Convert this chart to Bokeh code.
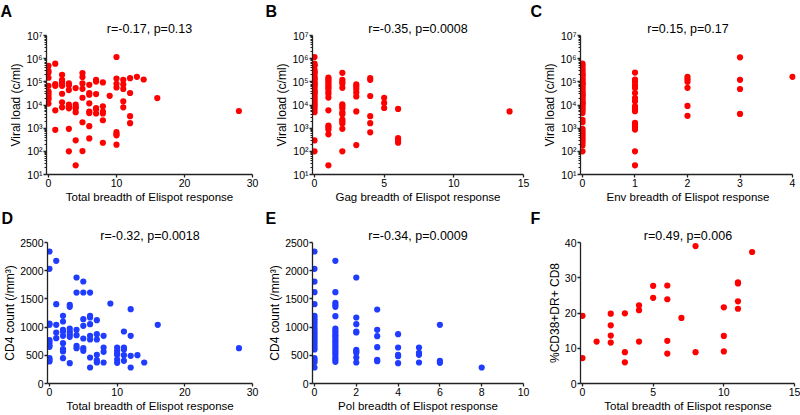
from bokeh.plotting import figure
from bokeh.models import FixedTicker, Range1d, Title
from bokeh.layouts import column, row
from bokeh.embed import file_html
from bokeh.resources import INLINE

# ---------------- data ----------------
# Panel A: total breadth vs viral load
a_x = [0]*11 + [1]*5 + [2]*8 + [3]*8 + [4]*7 + [5]*7 + [6]*8 + [7]*6 + [8]*6 + [9] + [10]*8 + [11]*5 + [12]*4 + [13, 14, 16, 28]
a_y = [4.9e5, 3.0e5, 2.5e5, 1.5e5, 6.7e4, 3.9e4, 3.3e4, 2.7e4, 2.1e4, 1.75e4, 1.15e4,
       6.1e5, 7.9e4, 6.7e4, 5.9e3, 8.5e2,
       2.0e5, 1.22e5, 1.03e5, 8.8e4, 6.7e4, 3.06e4, 1.3e4, 7.9e3,
       8.5e4, 7.2e4, 4.4e4, 1.03e4, 8.5e3, 7.2e3, 9.4e2, 1.0e2,
       5.4e4, 1.03e4, 8.2e3, 7.2e3, 4.9e3, 3.0e2, 25,
       2.4e5, 1.6e5, 8.5e4, 5.0e4, 2.06e4, 1.8e3, 1.03e2,
       7.4e4, 3.3e4, 2.8e4, 1.18e4, 5.2e3, 4.5e3, 1.22e3, 3.6e2,
       1.22e5, 1.03e5, 2.96e4, 7.4e3, 6.5e3, 4.3e3,
       9.4e4, 8.8e3, 5.2e3, 4.3e3, 2.2e3, 2.35e2,
       2.5e4,
       1.18e6, 1.39e5, 8.2e4, 5.7e4, 6.7e2, 5.5e2, 4.9e2, 1.93e2,
       1.22e5, 7.7e4, 4.9e4, 1.44e4, 7.9e3,
       1.44e5, 3.3e4, 3.3e3, 1.64e3,
       1.64e5, 1.26e5, 2.0e4, 5.5e3]

# Panel B: Gag breadth vs viral load
b_x = [0]*35 + [1]*16 + [2]*15 + [3]*7 + [4]*6 + [5]*3 + [6]*4 + [14]
b_y = [1.18e6, 6.1e5, 5.2e5, 5.0e5, 3.4e5, 2.8e5, 2.6e5, 2.3e5, 1.87e5, 1.54e5, 1.4e5, 1.3e5,
       1.07e5, 9.1e4, 8.0e4, 7.7e4, 6.5e4, 5.5e4, 4.7e4, 4.0e4, 3.6e4, 3.4e4, 2.9e4, 2.45e4,
       2.06e4, 1.74e4, 1.48e4, 1.26e4, 1.07e4, 9.1e3, 7.7e3, 6.3e3, 4.9e3, 2.97e2, 1.0e2,
       1.54e5, 1.3e5, 1.07e5, 8.8e4, 7.2e4, 5.9e4, 4.9e4, 3.7e4, 2.96e4, 2.1e4, 5.9e3, 1.3e3,
       1.1e3, 8.7e2, 5.4e2, 25,
       2.45e5, 1.22e5, 1.0e5, 8.2e4, 5.5e4, 1.07e4, 8.8e3, 7.2e3, 4.9e3, 3.98e3, 2.35e3, 1.95e3,
       1.6e3, 9.4e2, 1.0e2,
       7.7e4, 6.3e4, 4.9e4, 3.5e4, 2.35e4, 5.3e3, 1.86e2,
       1.44e5, 1.22e5, 2.45e4, 3.3e3, 1.64e3, 6.6e2,
       2.06e4, 1.23e4, 7.4e3,
       6.8e3, 3.7e2, 2.97e2, 2.35e2,
       5.3e3]

# Panel C: Env breadth vs viral load
c_x = [0]*45 + [1]*19 + [2]*6 + [3]*4 + [4]
c_y = [6.1e5, 5.2e5, 4.1e5, 3.4e5, 2.8e5, 2.3e5, 1.87e5, 1.53e5, 1.3e5, 1.1e5, 9.4e4, 7.9e4,
       6.7e4, 5.7e4, 4.9e4, 4.1e4, 3.5e4, 3.0e4, 2.5e4, 2.1e4, 1.8e4, 1.53e4, 1.3e4, 1.1e4,
       9.4e3, 7.9e3, 6.7e3, 5.7e3, 4.5e3, 2.3e3, 1.8e3, 9.4e2, 7.7e2, 6.3e2, 5.2e2, 4.3e2,
       3.5e2, 2.9e2, 2.35e2, 1.8e2, 1.0e2, 2.0e5, 8.6e4, 2.7e4, 1.2e4,
       2.5e5, 1.26e5, 1.0e5, 7.2e4, 5.4e4, 3.3e4, 2.0e4, 1.44e4, 8.8e3, 7.4e3, 6.3e3, 5.4e3,
       1.7e3, 1.44e3, 1.22e3, 1.03e3, 8.7e2, 1.0e2, 25,
       1.64e5, 1.3e5, 1.0e5, 5.5e4, 9.1e3, 3.4e3,
       1.14e6, 1.22e5, 4.9e4, 4.1e3,
       1.64e5]

# Panel D: total breadth vs CD4 count
d_x = [0]*11 + [1]*5 + [2]*9 + [3]*7 + [4]*6 + [5]*7 + [6]*8 + [7]*6 + [8]*4 + [9] + [10]*6 + [11]*5 + [12]*4 + [13, 14, 16, 28]
d_y = [2340, 2033, 1064, 1040, 768, 727, 680, 650, 449, 420, 390,
       2175, 1407, 1040, 904, 804,
       1200, 1099, 951, 922, 845, 715, 609, 567, 449,
       1395, 1359, 975, 922, 875, 827, 360,
       1879, 1613, 951, 857, 668, 626,
       1808, 1613, 1141, 1022, 798, 626, 579,
       1613, 1200, 1170, 1052, 845, 780, 461, 284,
       1123, 875, 780, 508, 414, 372,
       845, 638, 561, 372,
       1418,
       638, 579, 532, 508, 425, 366,
       922, 638, 603, 502, 402,
       1318, 845, 490, 284,
       502, 372, 1040, 626]

# Panel E: Pol breadth vs CD4 count
e_x = [0]*25 + [1]*22 + [2]*10 + [3]*6 + [4]*5 + [5]*4 + [6]*3 + [8]
e_y = [2340, 2033, 1808, 1619, 1407, 1200, 1158, 1123, 1082, 1040, 993, 951, 910, 875, 833,
       792, 757, 721, 680, 638, 603, 449, 414, 378, 284,
       2175, 1619, 1430, 1395, 1359, 1194, 975, 934, 898, 857, 827, 786, 745, 709, 668, 632,
       591, 550, 508, 461, 425, 384,
       1879, 1170, 1052, 922, 904, 597, 567, 544, 461, 372,
       1312, 951, 839, 644, 420, 396,
       875, 638, 508, 485, 360,
       638, 544, 508, 372,
       1040, 402, 366,
       284]

# Panel F: total breadth vs %CD38+DR+ CD8
f_x = [0, 0, 1, 2, 2, 2, 2, 3, 3, 3, 4, 4, 4, 5, 5, 6, 6, 6, 6, 7, 8, 8, 10, 10, 10, 11, 11, 11, 11, 12]
f_y = [19.2, 7.2, 11.9, 19.8, 16.5, 13.6, 11.6, 19.9, 8.9, 6.0, 22.2, 20.8, 11.9, 27.7, 24.3,
       27.8, 23.9, 12.1, 8.5, 18.6, 39.0, 8.9, 21.6, 13.5, 9.1, 28.7, 28.4, 23.3, 21.2, 37.3]

stats = ["r=-0.17, p=0.13", "r=-0.35, p=0.0008", "r=0.15, p=0.17",
         "r=-0.32, p=0.0018", "r=-0.34, p=0.0009", "r=0.49, p=0.006"]
letters = ["A", "B", "C", "D", "E", "F"]
x_labels = ["Total breadth of Elispot response", "Gag breadth of Elispot response",
            "Env breadth of Elispot response", "Total breadth of Elispot response",
            "Pol breadth of Elispot response", "Total breadth of Elispot response"]
y_labels = ["Viral load (c/ml)", "Viral load (c/ml)", "Viral load (c/ml)",
            "CD4 count (/mm³)", "CD4 count (/mm³)", "%CD38+DR+ CD8"]
log_ticks = [10, 100, 1000, 10000, 100000, 1000000, 10000000]
log_tick_labels = ["10¹", "10²", "10³", "10⁴", "10⁵", "10⁶", "10⁷"]
x_ticks_a = [0, 10, 20, 30]
x_ticks_b = [0, 5, 10, 15]
x_ticks_c = [0, 1, 2, 3, 4]
x_ticks_e = [0, 2, 4, 6, 8, 10]
cd4_ticks = [0, 500, 1000, 1500, 2000, 2500]
f_ticks = [0, 10, 20, 30, 40]

RED = "#ff0000"
BLUE = "#1f3cff"
FONT = "Liberation Sans"
AX = "#222222"


def panel(i, xs, ys, color, xr, x_ticks, log, yr, y_ticks, width, height, left, right, top, bottom):
    kw = dict(width=width, height=height, output_backend="svg", toolbar_location=None,
              min_border_left=left, min_border_right=right, min_border_top=top,
              min_border_bottom=bottom, outline_line_color=None, title=None,
              x_range=Range1d(*xr), y_range=Range1d(*yr))
    if log:
        p = figure(y_axis_type="log", **kw)
    else:
        p = figure(**kw)
    p.xgrid.visible = False
    p.ygrid.visible = False
    p.scatter(xs, ys, size=6.2, fill_color=color, line_color=None)

    p.xaxis.ticker = FixedTicker(ticks=x_ticks)
    p.xaxis.bounds = (xr[0], x_ticks[-1])
    if log:
        minor = [k * t for t in log_ticks[:-1] for k in range(2, 10)]
        p.yaxis.ticker = FixedTicker(ticks=y_ticks, minor_ticks=minor)
        p.yaxis.major_label_overrides = dict(zip(y_ticks, log_tick_labels))
        p.yaxis.minor_tick_out = 2
    else:
        p.yaxis.ticker = FixedTicker(ticks=y_ticks)
        p.yaxis.minor_tick_out = 0
    p.xaxis.minor_tick_out = 0
    for ax in (p.xaxis, p.yaxis):
        ax.minor_tick_in = 0
        ax.major_tick_in = 0
        ax.major_tick_out = 3
        ax.axis_line_color = AX
        ax.axis_line_width = 1.3
        ax.major_tick_line_color = AX
        ax.major_tick_line_width = 1.3
        ax.minor_tick_line_color = AX
        ax.major_label_text_font = FONT
        ax.major_label_text_font_size = "10.5px"
        ax.major_label_text_color = "black"
        ax.major_label_standoff = 1
        ax.axis_label_text_font = FONT
        ax.axis_label_text_font_style = "normal"
        ax.axis_label_text_color = "black"
    p.xaxis.axis_label_text_font_size = "11.5px"
    p.xaxis.axis_label_standoff = 1
    p.yaxis.axis_label_text_font_size = "12px"
    p.yaxis.axis_label_standoff = 0
    p.xaxis.axis_label = x_labels[i]
    p.yaxis.axis_label = y_labels[i]

    p.add_layout(Title(text=stats[i], align="center", text_font=FONT, text_font_size="12.5px",
                       text_font_style="normal", text_color="black", standoff=0), "above")
    p.add_layout(Title(text=letters[i], align="left", offset=-left, text_font=FONT,
                       text_font_size="16px", text_font_style="bold", text_color="black",
                       standoff=0), "above")
    return p


# column geometry: (figure width, left border, right border)
COLS = [(265, 46, 13), (265, 47, 7), (270, 50, 5)]
TOP_ROW = dict(height=205, top=34, bottom=30)
BOT_ROW = dict(height=209, top=37, bottom=30)

pA = panel(0, a_x, a_y, RED, (-0.29, 30), x_ticks_a, True, (10, 1e7), log_ticks,
           COLS[0][0], left=COLS[0][1], right=COLS[0][2], **TOP_ROW)
pB = panel(1, b_x, b_y, RED, (-0.142, 15), x_ticks_b, True, (10, 1e7), log_ticks,
           COLS[1][0], left=COLS[1][1], right=COLS[1][2], **TOP_ROW)
pC = panel(2, c_x, c_y, RED, (-0.038, 4.057), x_ticks_c, True, (10, 1e7), log_ticks,
           COLS[2][0], left=COLS[2][1], right=COLS[2][2], **TOP_ROW)
pD = panel(3, d_x, d_y, BLUE, (-0.29, 30), x_ticks_a, False, (0, 2500), cd4_ticks,
           COLS[0][0], left=COLS[0][1], right=COLS[0][2], **BOT_ROW)
pE = panel(4, e_x, e_y, BLUE, (-0.095, 10), x_ticks_e, False, (0, 2500), cd4_ticks,
           COLS[1][0], left=COLS[1][1], right=COLS[1][2], **BOT_ROW)
pF = panel(5, f_x, f_y, RED, (-0.14, 15.07), x_ticks_b, False, (0, 40), f_ticks,
           COLS[2][0], left=COLS[2][1], right=COLS[2][2], **BOT_ROW)

p = column(row(pA, pB, pC), row(pD, pE, pF))
open("out.html", "w").write(file_html(p, INLINE))
